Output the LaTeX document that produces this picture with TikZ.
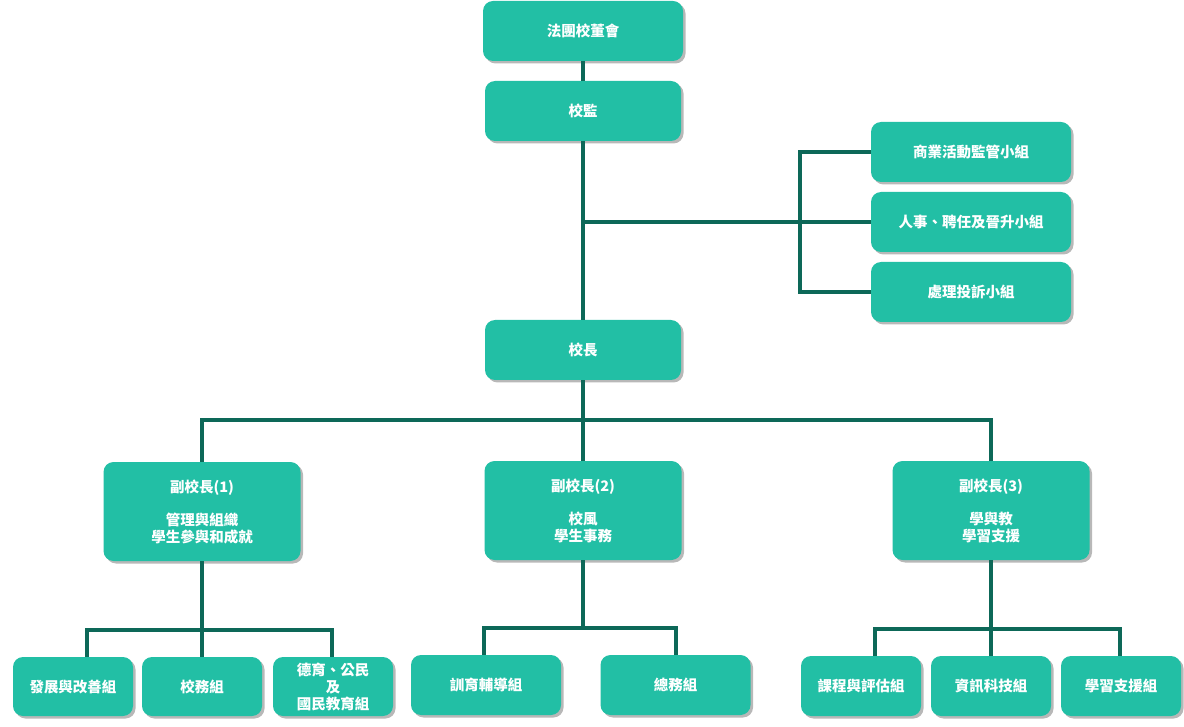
\documentclass[tikz,border=0pt]{standalone}
\usepackage{fontspec}
\newfontfamily\cjk{Noto Sans CJK TC}
\usetikzlibrary{shadows}
\definecolor{boxfill}{RGB}{34,191,165}
\definecolor{linec}{RGB}{13,104,88}
\tikzset{
  box/.style={draw=none, fill=boxfill, rounded corners=10pt, text=white,
    font=\cjk\bfseries\fontsize{14.5}{17}\selectfont, align=center, inner sep=0pt,
    drop shadow={shadow xshift=2.5pt, shadow yshift=-2.5pt, fill=black!28, opacity=1}},
  conn/.style={draw=linec, line width=4pt}
}
\begin{document}
\begin{tikzpicture}[x=1pt,y=-1pt]
\useasboundingbox (0,0) rectangle (1184,727);
% nodes
\node[box, minimum width=200pt, minimum height=60pt] (board) at (583,31) {法團校董會};
\node[box, minimum width=196pt, minimum height=60pt] (sup) at (583,111) {校監};
\node[box, minimum width=200pt, minimum height=60pt] (biz) at (971,152) {商業活動監管小組};
\node[box, minimum width=200pt, minimum height=60pt] (hr) at (971,222) {人事、聘任及晉升小組};
\node[box, minimum width=200pt, minimum height=60pt] (comp) at (971,292) {處理投訴小組};
\node[box, minimum width=196pt, minimum height=60pt] (princ) at (583,350) {校長};
\node[box, minimum width=197pt, minimum height=99pt] (vp1) at (202,511.5) {副校長(1)\\[16pt]管理與組織\\學生參與和成就};
\node[box, minimum width=197pt, minimum height=99pt] (vp2) at (583,510.5) {副校長(2)\\[16pt]校風\\學生事務};
\node[box, minimum width=197pt, minimum height=99pt] (vp3) at (991,510.5) {副校長(3)\\[16pt]學與教\\學習支援};
\node[box, minimum width=120pt, minimum height=59pt] (b1) at (73,686.5) {發展與改善組};
\node[box, minimum width=120pt, minimum height=59pt] (b2) at (202,686.5) {校務組};
\node[box, minimum width=120pt, minimum height=59pt] (b3) at (333,686.5) {德育、公民\\及\\國民教育組};
\node[box, minimum width=150pt, minimum height=60pt] (b4) at (486,685) {訓育輔導組};
\node[box, minimum width=150pt, minimum height=60pt] (b5) at (675.5,685) {總務組};
\node[box, minimum width=120pt, minimum height=60pt] (b6) at (861,686) {課程與評估組};
\node[box, minimum width=120pt, minimum height=60pt] (b7) at (991,686) {資訊科技組};
\node[box, minimum width=120pt, minimum height=60pt] (b8) at (1121,686) {學習支援組};
% junction coordinates
\coordinate (jr) at (582,222);
\coordinate (bx) at (800,222);
\coordinate (jp) at (583,420);
\coordinate (j1) at (202,630);
\coordinate (j2) at (583,628);
\coordinate (j3) at (991,629);
% connectors
\draw[conn] (board.south) -- (sup.north);
\draw[conn] (sup.south) -- (princ.north);
\draw[conn] (jr) -- (hr.west);
\draw[conn] (biz.west) -| (bx) |- (comp.west);
\draw[conn] (princ.south) -- (vp2.north);
\draw[conn] (vp1.north) |- (jp) -| (vp3.north);
\draw[conn] (vp1.south) -- (b2.north);
\draw[conn] ([xshift=14pt]b1.north) |- (j1) -| ([xshift=-1pt]b3.north);
\draw[conn] (vp2.south) -- (j2);
\draw[conn] ([xshift=-2pt]b4.north) |- (j2) -| (b5.north);
\draw[conn] (vp3.south) -- (b7.north);
\draw[conn] ([xshift=14pt]b6.north) |- (j3) -| ([xshift=-1pt]b8.north);
\end{tikzpicture}
\end{document}
